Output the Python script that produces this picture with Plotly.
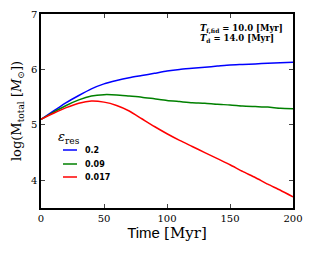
import plotly.graph_objects as go

time = [0, 10, 20, 30, 40, 50, 60, 70, 80, 90, 100, 110, 120, 130, 140, 150, 160, 170, 180, 190, 200]
m_02 = [5.10, 5.25, 5.40, 5.53, 5.65, 5.74, 5.80, 5.85, 5.89, 5.93, 5.97, 6.00, 6.02, 6.04, 6.06, 6.08, 6.09, 6.10, 6.11, 6.12, 6.13]
m_009 = [5.10, 5.23, 5.35, 5.45, 5.52, 5.545, 5.54, 5.52, 5.50, 5.47, 5.44, 5.42, 5.40, 5.39, 5.37, 5.36, 5.34, 5.33, 5.32, 5.30, 5.29]
m_0017 = [5.10, 5.21, 5.31, 5.39, 5.43, 5.41, 5.35, 5.25, 5.11, 4.97, 4.84, 4.72, 4.61, 4.50, 4.39, 4.28, 4.16, 4.05, 3.93, 3.82, 3.70]
labels = ["0.2", "0.09", "0.017"]
colors = ["#0000ff", "#008000", "#ff0000"]

fig = go.Figure()
for y, lab, c in zip([m_02, m_009, m_0017], labels, colors):
    fig.add_trace(go.Scatter(x=time, y=y, mode="lines", name=lab, showlegend=False,
                             line=dict(color=c, width=1.5, shape="spline", smoothing=0.6)))

serif = "DejaVu Serif"
OFF = 8  # page body margin
L, R, T, B, W, H = 41, 19, 14, 46, 312, 254
pw, ph = W - L - R, H - T - B

def px(x):
    return (x - L) / pw

def py(y):
    return (H - B - y) / ph

fig.update_layout(
    width=W - OFF, height=H - OFF,
    margin=dict(l=L - OFF, r=R, t=T - OFF, b=B),
    plot_bgcolor="white", paper_bgcolor="white",
    showlegend=False,
    xaxis=dict(range=[0, 200], tickvals=[0, 50, 100, 150, 200], ticks="inside", ticklen=4,
               showline=True, linecolor="black", linewidth=1.5, mirror="ticks", showgrid=False,
               zeroline=False, automargin=False, tickfont=dict(family=serif, size=10, color="black"),
               title=dict(text="Time <span style='font-family:DejaVu Serif'>[Myr]</span>",
                          font=dict(family="Liberation Sans", size=15, color="black"), standoff=4)),
    yaxis=dict(range=[3.5, 7], tickvals=[4, 5, 6, 7], ticks="inside", ticklen=4,
               showline=True, linecolor="black", linewidth=1.5, mirror="ticks", showgrid=False,
               zeroline=False, automargin=False, tickfont=dict(family=serif, size=10, color="black"),
               title=dict(text="log(M<sub>total</sub> [<i>M</i><sub>⊙</sub>])",
                          font=dict(family=serif, size=13, color="black"), standoff=6)),
)

# manual legend
fig.add_annotation(x=px(56), y=py(137), xref="paper", yref="paper", xanchor="left", yanchor="middle",
                   showarrow=False, text="<i>ε</i><sub>res</sub>",
                   font=dict(family=serif, size=13, color="black"))
for i, (lab, c) in enumerate(zip(labels, colors)):
    yy = [150, 164, 177][i]
    fig.add_shape(type="line", xref="paper", yref="paper", x0=px(63), x1=px(77), y0=py(yy), y1=py(yy),
                  line=dict(color=c, width=1.5))
    fig.add_annotation(x=px(83), y=py(yy), xref="paper", yref="paper", xanchor="left", yanchor="middle",
                       showarrow=False, text="<b>" + lab + "</b>",
                       font=dict(family="DejaVu Sans", size=8, color="black"))

fig.add_annotation(x=px(198), y=py(29), xref="paper", yref="paper", xanchor="left", yanchor="middle",
                   align="left", showarrow=False,
                   text="<b><i>T</i><sub>f,fid</sub> = 10.0 [Myr]</b>",
                   font=dict(family=serif, size=8.5, color="black"))
fig.add_annotation(x=px(198), y=py(39), xref="paper", yref="paper", xanchor="left", yanchor="middle",
                   align="left", showarrow=False,
                   text="<b><i>T</i><sub>d</sub> = 14.0 [Myr]</b>",
                   font=dict(family=serif, size=8.5, color="black"))
fig.write_html("out.html")
